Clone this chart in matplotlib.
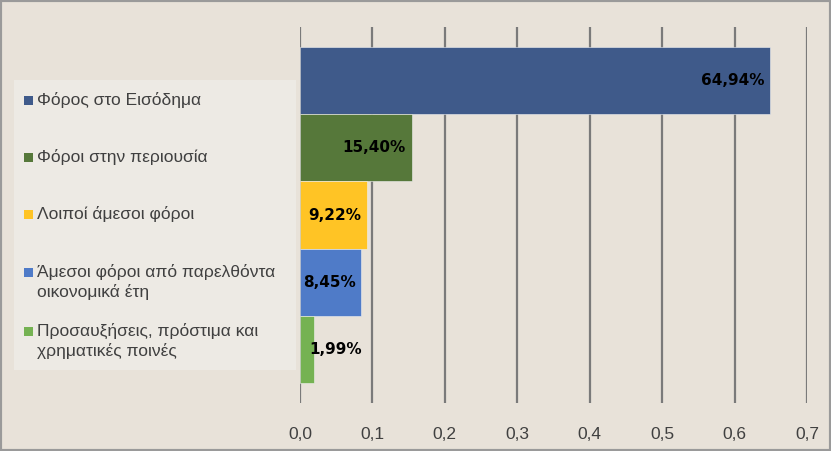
import matplotlib
matplotlib.use("Agg")
import matplotlib.pyplot as plt
from matplotlib.patches import Rectangle

categories = ["Φόρος στο Εισόδημα", "Φόροι στην περιουσία", "Λοιποί άμεσοι φόροι",
              "Άμεσοι φόροι από παρελθόντα\nοικονομικά έτη",
              "Προσαυξήσεις, πρόστιμα και\nχρηματικές ποινές"]
values = [0.6494, 0.1540, 0.0922, 0.0845, 0.0199]
labels = ["64,94%", "15,40%", "9,22%", "8,45%", "1,99%"]
colors = ["#3F5A8A", "#56783A", "#FFC425", "#4F7BC8", "#75B252"]
xticks = [0, 0.1, 0.2, 0.3, 0.4, 0.5, 0.6, 0.7]

W, H = 831, 451
fig = plt.figure(figsize=(W/100, H/100), dpi=100)
fig.patch.set_facecolor("#E8E2D9")
fig.add_artist(Rectangle((0, 0), 1, 1, transform=fig.transFigure, fill=False,
                         edgecolor="#9A9A9A", lw=3))
ax = fig.add_axes([300/W, 1-403/H, 507/W, 376/H])
ax.set_facecolor("none")
ax.barh(range(5), values, height=1.0, color=colors, edgecolor="#F0F0F0", lw=0.4, zorder=3)
ax.set_ylim(4.8, -0.8)
ax.set_xlim(0, 0.7)
ax.set_xticks(xticks)
ax.set_xticklabels([f"{t:.1f}".replace(".", ",") for t in xticks], fontsize=12.5,
                   color="#404040", fontfamily="Liberation Sans")
ax.tick_params(axis="x", length=0, pad=17)
ax.set_yticks([])
for s in ax.spines.values():
    s.set_visible(False)
ax.grid(axis="x", color="#7A7A7A", lw=1.6, zorder=0)
for i, (v, l) in enumerate(zip(values, labels)):
    ha = "right" if v > 0.06 else "left"
    ax.annotate(l, (v, i), xytext=(-4, 0), textcoords="offset points", ha=ha,
                va="center", fontsize=11, fontweight="bold", zorder=5, fontfamily="DejaVu Sans")

# legend box
fig.add_artist(Rectangle((14/W, 1-370/H), 282/W, 290/H, transform=fig.transFigure,
                         facecolor="#EDEAE4", edgecolor="none"))
legend_y = [100, 157, 214, 282, 341]
for c, col, ypix in zip(categories, colors, legend_y):
    y = 1 - ypix/H
    first_y = y + (10/H if "\n" in c else 0)
    fig.add_artist(Rectangle((24/W, first_y - 4.5/H), 9/W, 9/H, transform=fig.transFigure,
                             facecolor=col, edgecolor="none"))
    fig.text(37/W, y, c, fontsize=12.5, color="#404040", va="center", ha="left",
             fontfamily="Liberation Sans", linespacing=1.35)
fig.savefig("out.png", dpi=100, facecolor=fig.get_facecolor())
